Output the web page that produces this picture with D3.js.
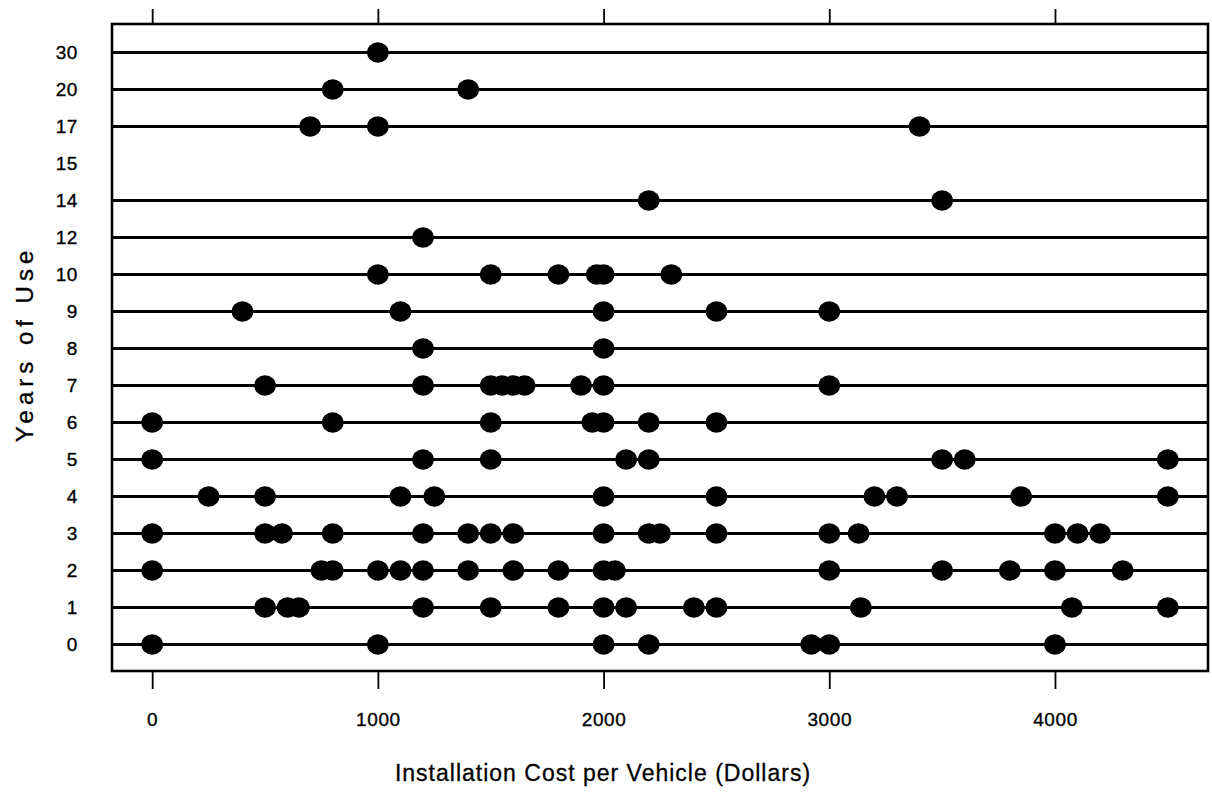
<!DOCTYPE html>
<html>
<head>
<meta charset="utf-8">
<script src="https://cdn.jsdelivr.net/npm/d3@7"></script>
<style>
  html, body { margin: 0; padding: 0; background: #fff; }
  svg { display: block; }
  text { font-family: "Liberation Sans", Arial, Helvetica, sans-serif; fill: #000; }
</style>
</head>
<body>
<svg id="chart" width="1212" height="798"></svg>
<script>
// ---- data ----
const years = ["30", "20", "17", "15", "14", "12", "10", "9", "8", "7", "6", "5", "4", "3", "2", "1", "0"];
const costs = [
  [1000],
  [800, 1400],
  [700, 1000, 3400],
  [],
  [2200, 3500],
  [1200],
  [1000, 1500, 1800, 1970, 2000, 2300],
  [400, 1100, 2000, 2500, 3000],
  [1200, 2000],
  [500, 1200, 1500, 1550, 1600, 1650, 1900, 2000, 3000],
  [0, 800, 1500, 1950, 2000, 2200, 2500],
  [0, 1200, 1500, 2100, 2200, 3500, 3600, 4500],
  [250, 500, 1100, 1250, 2000, 2500, 3200, 3300, 3850, 4500],
  [0, 500, 575, 800, 1200, 1400, 1500, 1600, 2000, 2200, 2250, 2500, 3000, 3130, 4000, 4100, 4200],
  [0, 750, 800, 1000, 1100, 1200, 1400, 1600, 1800, 2000, 2050, 3000, 3500, 3800, 4000, 4300],
  [500, 600, 650, 1200, 1500, 1800, 2000, 2100, 2400, 2500, 3140, 4075, 4500],
  [0, 1000, 2000, 2200, 2920, 3000, 4000]
];
const xTicks = [0, 1000, 2000, 3000, 4000];
const xTitle = "Installation Cost per Vehicle (Dollars)";
const yTitle = "Years of Use";

// ---- layout ----
const plot = { left: 112, right: 1208, top: 24, bottom: 671 };
const svg = d3.select("#chart");

const x = d3.scaleLinear()
  .domain([-178, 4678])
  .range([plot.left, plot.right]);

const y = d3.scalePoint()
  .domain(years)
  .range([52.5, 644.5]);

const rows = years.map((yr, i) => ({ year: yr, values: costs[i] }));

// horizontal rules for rows with data
svg.append("g")
  .selectAll("line")
  .data(rows.filter(r => r.values.length > 0))
  .join("line")
  .attr("x1", plot.left)
  .attr("x2", plot.right)
  .attr("y1", d => y(d.year))
  .attr("y2", d => y(d.year))
  .attr("stroke", "#000")
  .attr("stroke-width", 2.8);

// dots
const pts = rows.flatMap(r => r.values.map(v => ({ year: r.year, v })));
svg.append("g")
  .selectAll("ellipse")
  .data(pts)
  .join("ellipse")
  .attr("cx", d => x(d.v))
  .attr("cy", d => y(d.year))
  .attr("rx", 10.8)
  .attr("ry", 10.2)
  .attr("fill", "#000");

// frame
svg.append("rect")
  .attr("x", plot.left)
  .attr("y", plot.top)
  .attr("width", plot.right - plot.left)
  .attr("height", plot.bottom - plot.top)
  .attr("fill", "none")
  .attr("stroke", "#000")
  .attr("stroke-width", 2.6);

const labelStyle = sel => sel
  .attr("font-size", 19)
  .attr("letter-spacing", "0.6px")
  .attr("font-family", "'Liberation Sans', Arial, sans-serif")
  .attr("fill", "#000")
  .attr("stroke", "#000")
  .attr("stroke-width", 0.35);

// bottom axis (ticks outward, labels below)
const xAxisB = d3.axisBottom(x)
  .tickValues(xTicks)
  .tickFormat(d3.format("d"))
  .tickSizeInner(18)
  .tickSizeOuter(0)
  .tickPadding(24);
const gB = svg.append("g")
  .attr("transform", `translate(0,${plot.bottom})`)
  .call(xAxisB);
gB.select(".domain").remove();
gB.selectAll(".tick line").attr("stroke", "#000").attr("stroke-width", 1.8);
gB.selectAll(".tick text").call(labelStyle);

// top axis ticks only
const xAxisT = d3.axisTop(x)
  .tickValues(xTicks)
  .tickFormat("")
  .tickSizeInner(15)
  .tickSizeOuter(0);
const gT = svg.append("g")
  .attr("transform", `translate(0,${plot.top})`)
  .call(xAxisT);
gT.select(".domain").remove();
gT.selectAll(".tick line").attr("stroke", "#000").attr("stroke-width", 1.8);

// left axis labels
const yAxis = d3.axisLeft(y)
  .tickSize(0)
  .tickPadding(34);
const gL = svg.append("g")
  .attr("transform", `translate(${plot.left},0)`)
  .call(yAxis);
gL.select(".domain").remove();
gL.selectAll(".tick text").call(labelStyle);

// axis titles
svg.append("text")
  .attr("x", 603)
  .attr("y", 781)
  .attr("text-anchor", "middle")
  .attr("font-size", 23)
  .attr("letter-spacing", "1px")
  .attr("stroke", "#000")
  .attr("stroke-width", 0.3)
  .text(xTitle);

svg.append("text")
  .attr("transform", "translate(33,344) rotate(-90)")
  .attr("text-anchor", "middle")
  .attr("font-size", 24)
  .attr("letter-spacing", "5px")
  .attr("stroke", "#000")
  .attr("stroke-width", 0.3)
  .text(yTitle);
</script>
</body>
</html>
